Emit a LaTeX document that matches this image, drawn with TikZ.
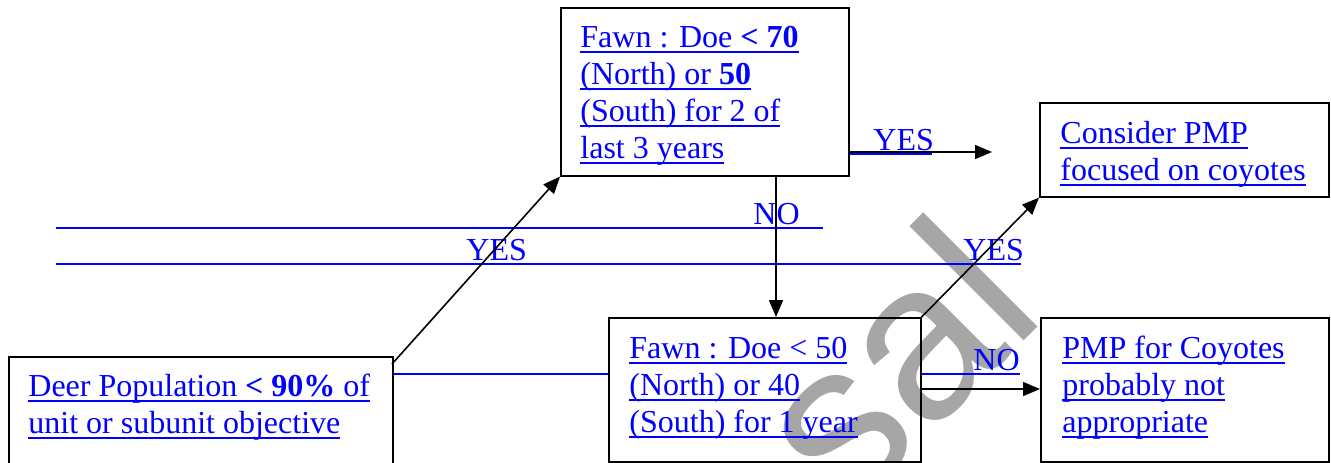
\documentclass[tikz,border=0pt]{standalone}
\usepackage{fontspec}
\setmainfont{Liberation Serif}
\newfontfamily\wmfont{Liberation Sans}
\newsavebox{\ulxbox}
\newcommand{\ulx}[1]{\sbox{\ulxbox}{#1}\rlap{\rule[-3pt]{\wd\ulxbox}{1pt}}\usebox{\ulxbox}}
\usetikzlibrary{arrows.meta}
\definecolor{lnk}{RGB}{0,0,255}
\definecolor{wm}{RGB}{166,166,166}
\begin{document}
\begin{tikzpicture}[x=0.5pt,y=-0.5pt,
  box/.style={draw=black,line width=0.8pt,inner sep=0pt,anchor=north west},
  txt/.style={text=lnk,font=\fontsize{16pt}{18.5pt}\selectfont,align=left,inner sep=0pt,anchor=base west},
  lbl/.style={text=lnk,font=\fontsize{16pt}{18.5pt}\selectfont,inner sep=0pt,anchor=base west},
  ulin/.style={draw=lnk,line width=1pt},
  arr/.style={draw=black,line width=0.8pt,-{Triangle[length=8.5pt,width=7pt]}},
  wmark/.style={font=\wmfont\fontsize{111.5pt}{111.5pt}\selectfont,text=wm,rotate=45,anchor=base west,inner sep=0pt}]
\useasboundingbox (0,0) rectangle (1331,462);
% watermark
\node[wmark] (wmk) at (847,518) {sal};
% boxes
\node[box,minimum width=144pt,minimum height=84pt] (A) at (560,7) {};
\node[box,minimum width=144.5pt,minimum height=47pt] (B) at (1039,102) {};
\node[box,minimum width=156pt,minimum height=72pt] (C) at (608,317) {};
\node[box,minimum width=192pt,minimum height=80pt] (D) at (8,356) {};
\node[box,minimum width=144pt,minimum height=72pt] (E) at (1040,317) {};
% box texts (anchored at the baseline of their last line)
\node[txt] (At) at (580,158) {\ulx{Fawn : Doe \textbf{< 70}}\\\ulx{(North) or \textbf{50}}\\\ulx{(South) for 2 of}\\\ulx{last 3 years}};
\node[txt] (Bt) at (1060,180) {\ulx{Consider PMP}\\\ulx{focused on coyotes}};
\node[txt] (Ct) at (629,432) {\ulx{Fawn : Doe < 50}\\\ulx{(North) or 40}\\\ulx{(South) for 1 year}};
\node[txt] (Dt) at (28,433) {\ulx{Deer Population \textbf{< 90\%} of}\\\ulx{unit or subunit objective}};
\node[txt] (Et) at (1062,432) {\ulx{PMP for Coyotes}\\\ulx{probably not}\\\ulx{appropriate}};
% label lines
\coordinate (l1a) at (56,228); \coordinate (l1b) at (823,228);
\draw[ulin] (l1a) -- (l1b);
\node[lbl] (no1) at (753,224) {NO};
\coordinate (l2a) at (56,264); \coordinate (l2b) at (1021,264);
\draw[ulin] (l2a) -- (l2b);
\node[lbl] (yes1) at (466,260) {YES};
\node[lbl] (yes2) at (963,260) {YES};
\coordinate (l3) at (392,374);
\draw[ulin] (D.east |- l3) -- (C.west |- l3);
\coordinate (l4b) at (1020,374);
\draw[ulin] (C.east |- l4b) -- (l4b);
\node[lbl] (no2) at (973,370) {NO};
\coordinate (l5b) at (932,154);
\draw[ulin] (A.east |- l5b) -- (l5b);
\node[lbl] (yes3) at (873,150) {YES};
% arrows
\coordinate (Cin) at (776,317);
\draw[arr] (A.south -| Cin) -- (Cin);
\coordinate (Aend) at (992,152);
\draw[arr] (A.east |- Aend) -- (Aend);
\coordinate (Dout) at (392,364);
\draw[arr] (Dout) -- (A.south west);
\draw[arr] (C.north east) -- (B.south west);
\coordinate (Ein) at (1040,389);
\draw[arr] (C.east |- Ein) -- (Ein);
\end{tikzpicture}
\end{document}
